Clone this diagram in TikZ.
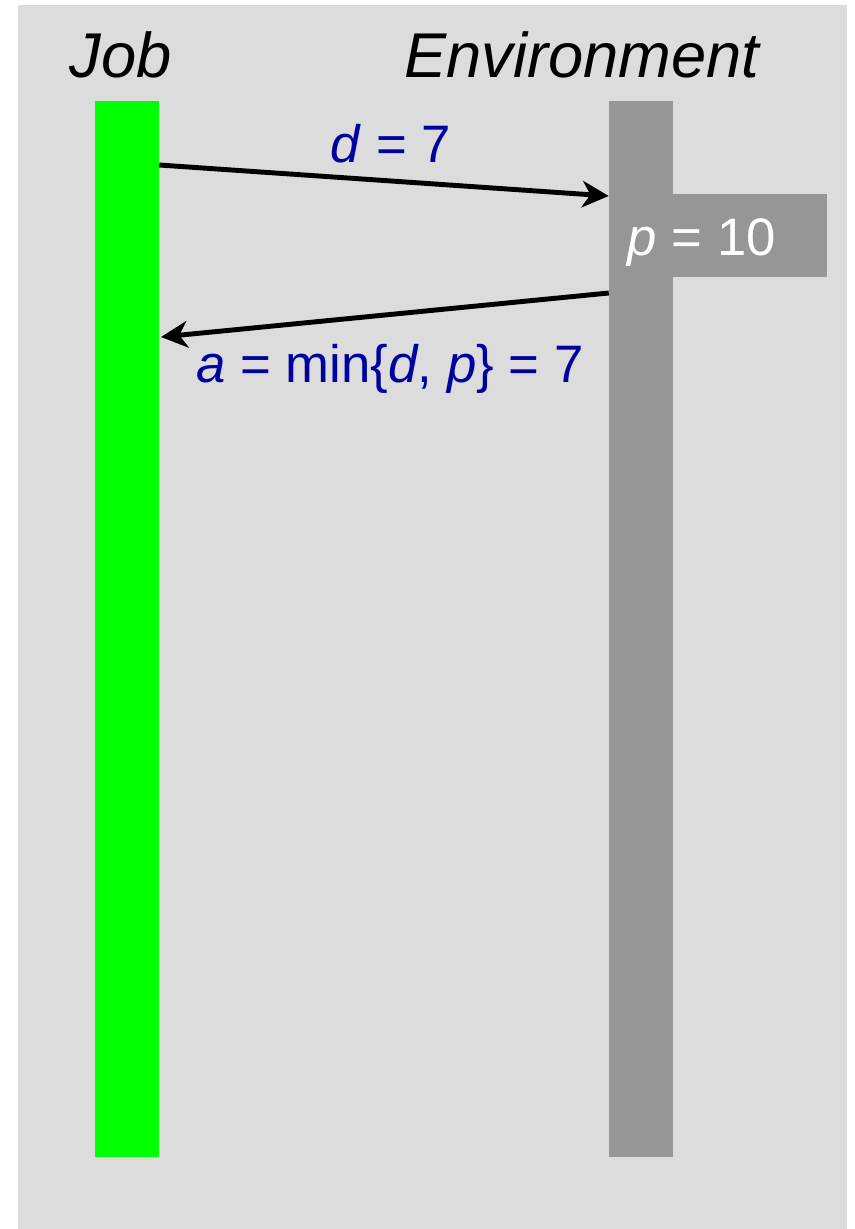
\documentclass[tikz,border=0pt]{standalone}
\usepackage{fontspec}
\setmainfont{Liberation Sans}
\usetikzlibrary{arrows.meta, positioning}
\definecolor{bggray}{RGB}{220,220,220}
\definecolor{envgray}{RGB}{150,150,150}
\definecolor{jobgreen}{RGB}{0,255,0}
\definecolor{msgblue}{RGB}{0,0,160}

\begin{document}
\begin{tikzpicture}[x=0.03cm, y=-0.03cm,
  lifeline/.style={rectangle, inner sep=0pt, minimum width=1.92cm, minimum height=31.68cm},
  title/.style={anchor=base, inner sep=0pt, font=\fontsize{54}{64}\selectfont\itshape},
  msg/.style={line width=4.2pt, -{Stealth[length=0.8cm, width=0.8cm, inset=0.25cm]}},
  msglabel/.style={anchor=base, inner sep=0pt, text=msgblue, font=\fontsize{45}{54}\selectfont}]
\useasboundingbox (0,0) rectangle (854,1229);
\fill[bggray] (18,5) rectangle (847,1229);

% Lifelines
\node[title] (jobtitle) at (121,77) {Job};
\node[title] (envtitle) at (582,77) {Environment};
\node[lifeline, fill=jobgreen] (job) at (127,629) {};
\node[rectangle, inner sep=0pt, minimum width=6.54cm, minimum height=2.49cm, fill=envgray] (pbox) at (718,235.5) {};
\node[lifeline, fill=envgray] (env) at (641,629) {};
\node[anchor=base, inner sep=0pt, text=white, font=\fontsize{45}{54}\selectfont] (pval) at (702,255) {\textit{p} = 10};

% Messages
\draw[msg] (job.east |- 0,165) -- (env.west |- 0,196);
\node[msglabel] (dlabel) at (391,162) {\textit{d} = 7};
\draw[msg] (env.west |- 0,293) -- (161,337);
\node[msglabel] (alabel) at (390,382) {\textit{a} = min\{\textit{d}, \textit{p}\} = 7};

\end{tikzpicture}
\end{document}
